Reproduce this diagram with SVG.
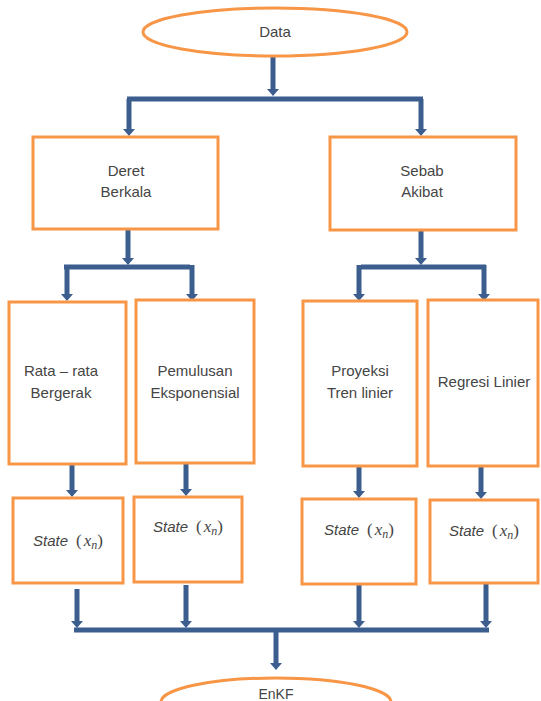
<svg xmlns="http://www.w3.org/2000/svg" width="541" height="701" viewBox="0 0 541 701">
<style>
.node{fill:#fff;stroke:#F79646;stroke-width:3}
.t{font-family:"Liberation Sans",Arial,sans-serif;font-size:15px;fill:#454545;text-anchor:middle}
.s{font-style:italic}
.p{font-family:"Liberation Serif","Times New Roman",serif;font-size:17px;font-style:normal}
.m{font-family:"Liberation Serif","Times New Roman",serif;font-size:17px;font-style:italic}
.sub{font-family:"Liberation Serif","Times New Roman",serif;font-size:12px;font-style:italic}
.c{fill:none;stroke:#3B5E8F;stroke-width:5}
.ca{fill:none;stroke:#3B5E8F;stroke-width:5;marker-end:url(#ah)}
</style>
<defs>
<marker id="ah" markerUnits="userSpaceOnUse" markerWidth="8" markerHeight="12" refX="0" refY="6" orient="auto" viewBox="0 0 8 12">
<path d="M0,0 L7,6 L0,12 z" fill="#3B5E8F"/>
</marker>
</defs>
<rect width="541" height="701" fill="#fff"/>
<g id="connectors">
<path class="ca" d="M273,56 V89"/>
<path class="c" d="M127,99 H423"/>
<path class="ca" d="M129,99 V129"/>
<path class="ca" d="M421,99 V129"/>
<path class="ca" d="M128,229 V258"/>
<path class="c" d="M64,267 H190"/>
<path class="ca" d="M67,267 V294"/>
<path class="ca" d="M192,265 V294"/>
<path class="ca" d="M421,230 V258"/>
<path class="c" d="M361,267 H486"/>
<path class="ca" d="M359,265 V294"/>
<path class="ca" d="M484,265 V294"/>
<path class="ca" d="M72,464 V490"/>
<path class="ca" d="M186,463 V489"/>
<path class="ca" d="M359,466 V491"/>
<path class="ca" d="M481,466 V492"/>
<path class="ca" d="M77,589 V621"/>
<path class="ca" d="M186,585 V621"/>
<path class="ca" d="M359,585 V621"/>
<path class="ca" d="M486,584 V621"/>
<path class="c" d="M74,630 H489"/>
<path class="ca" d="M276,630 V663"/>
</g>
<g id="data">
<ellipse class="node" cx="275" cy="32" rx="132" ry="24"/>
<text class="t" x="275" y="37">Data</text>
</g>
<g id="deret">
<rect class="node" x="33" y="137" width="185" height="92"/>
<text class="t" x="126" y="176">Deret</text>
<text class="t" x="126" y="197">Berkala</text>
</g>
<g id="sebab">
<rect class="node" x="330" y="137" width="186" height="93"/>
<text class="t" x="422" y="176">Sebab</text>
<text class="t" x="422" y="197">Akibat</text>
</g>
<g id="rata">
<rect class="node" x="9" y="302" width="117" height="162"/>
<text class="t" x="61" y="376">Rata – rata</text>
<text class="t" x="61" y="398">Bergerak</text>
</g>
<g id="pemulusan">
<rect class="node" x="136" y="300" width="118" height="163"/>
<text class="t" x="195" y="376">Pemulusan</text>
<text class="t" x="195" y="398">Eksponensial</text>
</g>
<g id="proyeksi">
<rect class="node" x="303" y="301" width="114" height="165"/>
<text class="t" x="360" y="376">Proyeksi</text>
<text class="t" x="360" y="398">Tren linier</text>
</g>
<g id="regresi">
<rect class="node" x="428" y="300" width="110" height="166"/>
<text class="t" x="484" y="387">Regresi Linier</text>
</g>
<g id="state1">
<rect class="node" x="13" y="498" width="110" height="85"/>
<text class="t" x="68" y="546"><tspan class="s">State</tspan><tspan class="p" dx="8">(</tspan><tspan class="m" dx="2">x</tspan><tspan class="sub" dy="3">n</tspan><tspan class="p" dy="-3">)</tspan></text>
</g>
<g id="state2">
<rect class="node" x="134" y="497" width="108" height="85"/>
<text class="t" x="188" y="532"><tspan class="s">State</tspan><tspan class="p" dx="8">(</tspan><tspan class="m" dx="2">x</tspan><tspan class="sub" dy="3">n</tspan><tspan class="p" dy="-3">)</tspan></text>
</g>
<g id="state3">
<rect class="node" x="302" y="499" width="114" height="85"/>
<text class="t" x="359" y="535"><tspan class="s">State</tspan><tspan class="p" dx="8">(</tspan><tspan class="m" dx="2">x</tspan><tspan class="sub" dy="3">n</tspan><tspan class="p" dy="-3">)</tspan></text>
</g>
<g id="state4">
<rect class="node" x="430" y="500" width="108" height="83"/>
<text class="t" x="484" y="536"><tspan class="s">State</tspan><tspan class="p" dx="8">(</tspan><tspan class="m" dx="2">x</tspan><tspan class="sub" dy="3">n</tspan><tspan class="p" dy="-3">)</tspan></text>
</g>
<g id="enkf">
<ellipse class="node" cx="276" cy="702" rx="115" ry="24"/>
<text class="t" x="276" y="699" style="font-size:14px">EnKF</text>
</g>
</svg>
